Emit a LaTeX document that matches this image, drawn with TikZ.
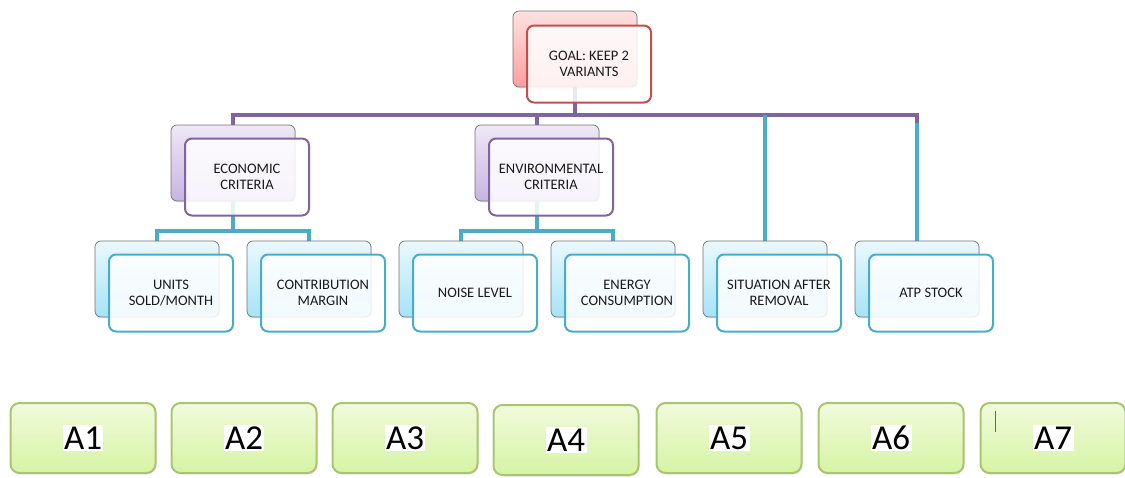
\documentclass[tikz,border=0pt]{standalone}
\usepackage{fontspec}
\setmainfont{Carlito}
\usetikzlibrary{backgrounds,shadows}

\definecolor{goalred}{HTML}{C0504D}
\definecolor{critpurple}{HTML}{8064A2}
\definecolor{leafcyan}{HTML}{4BACC6}
\definecolor{altgreen}{HTML}{9BBB59}
\definecolor{goaltop}{HTML}{FDE2E2}
\definecolor{goalbot}{HTML}{FF9E9E}
\definecolor{crittop}{HTML}{EEE8F6}
\definecolor{critbot}{HTML}{C6B4E4}
\definecolor{leaftop}{HTML}{EAF9FE}
\definecolor{leafbot}{HTML}{A6E3F7}
\definecolor{alttop}{HTML}{F1FADC}
\definecolor{altbot}{HTML}{D5F4A4}
\setlength{\fboxsep}{1.5pt}

\tikzset{
  backbox/.style={draw=black!55, line width=0.7pt, rounded corners=6pt,
    minimum width=124pt, minimum height=76pt,
    drop shadow={shadow xshift=1pt, shadow yshift=-1.5pt, opacity=0.15}},
  frontbox/.style={draw=#1, line width=2pt, rounded corners=7pt,
    fill=white, fill opacity=0.85, text opacity=1, text=black!90,
    minimum width=124pt, minimum height=77pt, align=center,
    font=\fontsize{14.5}{16}\selectfont},
  altbox/.style={draw=altgreen!85, line width=2pt, rounded corners=9pt,
    top color=alttop, bottom color=altbot,
    minimum width=145pt, minimum height=70pt,
    font=\fontsize{35}{40}\selectfont,
    drop shadow={shadow xshift=1pt, shadow yshift=-1.5pt, opacity=0.15}},
  critline/.style={critpurple, line width=3.6pt},
  leafline/.style={leafcyan, line width=3.6pt}
}

\begin{document}
\begin{tikzpicture}[x=1pt,y=-1pt]
\useasboundingbox (0,0) rectangle (1125,477);
% goal
\node[backbox, top color=goaltop, bottom color=goalbot] (goalb) at (575,49) {};
\node[frontbox=goalred] (goalf) at (589,64) {GOAL: KEEP 2\\VARIANTS};
% criteria
\foreach \n/\x/\txt in {econ/233/{ECONOMIC\\CRITERIA}, env/537/{ENVIRONMENTAL\\CRITERIA}}{
  \node[backbox, top color=crittop, bottom color=critbot] (\n b) at (\x,163) {};
  \node[frontbox=critpurple] (\n f) at (\x+14,177) {\txt};
}
% sub-criteria
\foreach \n/\x/\txt in {units/157/{UNITS\\SOLD/MONTH}, contr/309/{CONTRIBUTION\\MARGIN},
    noise/461/{NOISE LEVEL}, energy/613/{ENERGY\\CONSUMPTION},
    sit/765/{SITUATION AFTER\\REMOVAL}, atp/917/{ATP STOCK}}{
  \node[backbox, top color=leaftop, bottom color=leafbot] (\n b) at (\x,279) {};
  \node[frontbox=leafcyan] (\n f) at (\x+14,293) {\txt};
}
% connectors
\begin{scope}[on background layer]
\coordinate (bus) at (0,115);
\coordinate (kidbus) at (0,231);
\coordinate (atpbend) at (0,123);
\draw[critline] (goalb.center) -- (goalb |- bus);
\draw[critline] (econb.center) -- (econb |- bus) -- (atpb |- bus) -- (atpb |- atpbend);
\draw[critline] (envb.center) -- (envb |- bus);
\draw[leafline] (sitb.north) -- (sitb |- bus);
\draw[leafline] (atpb.north) -- (atpb |- atpbend);
\draw[leafline] (econb.center) -- (econb |- kidbus);
\draw[leafline] (unitsb.north) -- (unitsb |- kidbus) -- (contrb |- kidbus) -- (contrb.north);
\draw[leafline] (envb.center) -- (envb |- kidbus);
\draw[leafline] (noiseb.north) -- (noiseb |- kidbus) -- (energyb |- kidbus) -- (energyb.north);
\end{scope}
% alternatives
\foreach \i/\x/\y in {1/83/438, 2/244/438, 3/405/438, 4/566/440, 5/729/438, 6/891/438, 7/1053/438}
  \node[altbox] (a\i) at (\x,\y) {\colorbox{white}{A\i}};
\draw[black!60, line width=0.8pt] (a7.north west) ++(16,9) -- ++(0,21);
\end{tikzpicture}
\end{document}
